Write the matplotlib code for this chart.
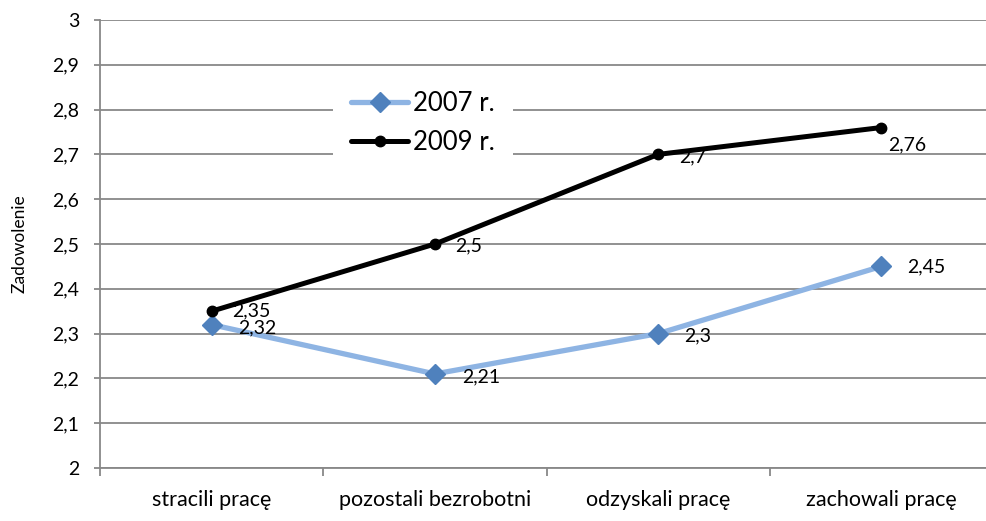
import matplotlib
matplotlib.use("Agg")
import matplotlib.pyplot as plt
from matplotlib.ticker import FuncFormatter, FixedLocator

plt.rcParams['font.family'] = ['Lato', 'DejaVu Sans']

categories = ["stracili pracę", "pozostali bezrobotni", "odzyskali pracę", "zachowali pracę"]
series_2007 = [2.32, 2.21, 2.30, 2.45]
series_2009 = [2.35, 2.50, 2.70, 2.76]
labels_2007 = ["2,32", "2,21", "2,3", "2,45"]
labels_2009 = ["2,35", "2,5", "2,7", "2,76"]
legend_names = ["2007 r.", "2009 r."]
y_label = "Zadowolenie"

W, H = 986, 521
fig = plt.figure(figsize=(W / 100, H / 100), dpi=100)
ax = fig.add_axes([100 / W, 1 - 468 / H, 893 / W, 448 / H])

grid_c = "#888888"
x = list(range(len(categories)))

l1, = ax.plot(x, series_2007, color="#8EB4E3", lw=3.8, marker="D", ms=10.5,
              mfc="#4F81BD", mec="#4F81BD", zorder=3, solid_capstyle="round")
l2, = ax.plot(x, series_2009, color="black", lw=3.6, marker="o", ms=7.5,
              mfc="black", mec="black", zorder=4, solid_capstyle="round")

# data labels (offsets in pixels)
off_2007 = [(27, -3), (27, -3), (26, -2), (26, 0)]
off_2009 = [(21, 0), (20, -2), (21, -2), (7, -17)]
for xi, yi, t, o in zip(x, series_2007, labels_2007, off_2007):
    ax.annotate(t, (xi, yi), xytext=o, textcoords="offset pixels",
                ha="left", va="center", fontsize=14, zorder=5)
for xi, yi, t, o in zip(x, series_2009, labels_2009, off_2009):
    ax.annotate(t, (xi, yi), xytext=o, textcoords="offset pixels",
                ha="left", va="center", fontsize=14, zorder=5)

ax.set_xlim(-0.5, len(categories) - 0.5)
ax.set_ylim(2, 3)
ax.set_yticks([2 + i / 10 for i in range(11)])
ax.yaxis.set_major_formatter(FuncFormatter(lambda v, p: f"{v:.1f}".rstrip("0").rstrip(".").replace(".", ",")))
ax.grid(axis="y", color=grid_c, lw=1.3, zorder=0)
ax.set_axisbelow(True)

ax.set_xticks(x)
ax.set_xticklabels(categories)
ax.xaxis.set_minor_locator(FixedLocator([i - 0.5 for i in range(len(categories))]))
ax.tick_params(axis="x", which="major", length=0, pad=16, labelsize=15.5)
ax.tick_params(axis="x", which="minor", length=6, width=1.3, color=grid_c)
ax.tick_params(axis="y", length=4, width=1.3, color=grid_c, pad=11, labelsize=14)

for s in ["top", "right"]:
    ax.spines[s].set_visible(False)
for s in ["left", "bottom"]:
    ax.spines[s].set_color(grid_c)
    ax.spines[s].set_linewidth(1.3)

ax.set_ylabel(y_label, fontsize=12.5)
ax.yaxis.set_label_coords(-(100 - 28) / 893, 0.5)

leg = ax.legend([l1, l2], legend_names, loc="center",
                bbox_to_anchor=(423 / W, 1 - 123 / H), bbox_transform=fig.transFigure,
                fontsize=18.5, frameon=True, facecolor="white", edgecolor="none",
                framealpha=1, fancybox=False, handlelength=2.2, handletextpad=0.2,
                labelspacing=0.55, borderpad=0.7)
leg.set_zorder(10)

fig.savefig("out.png", dpi=100)
